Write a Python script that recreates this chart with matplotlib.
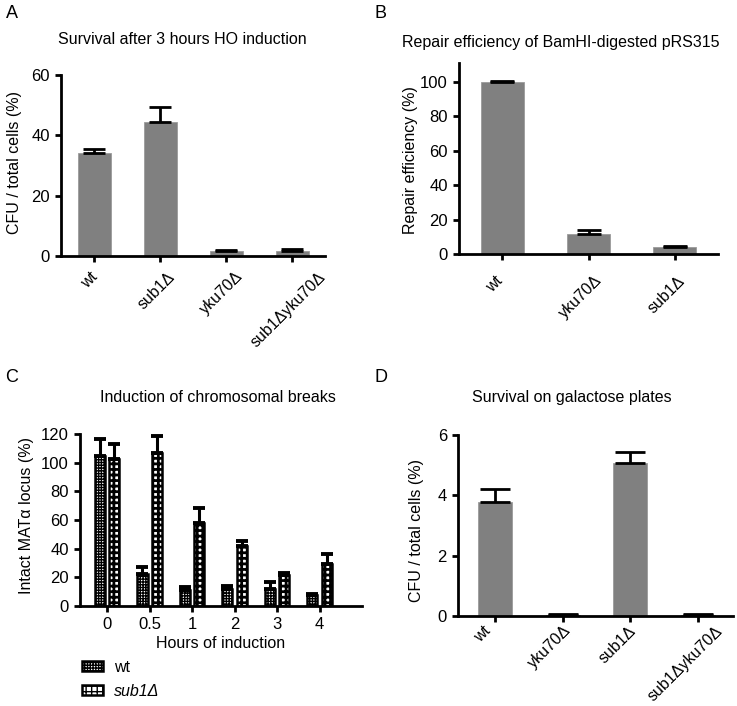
import matplotlib
matplotlib.use("Agg")
import matplotlib.pyplot as plt
from matplotlib.patches import Patch
from matplotlib.transforms import offset_copy
import numpy as np

plt.rcParams['font.family'] = ['Liberation Sans', 'DejaVu Sans']
plt.rcParams['font.size'] = 12

W, H = 737, 706

# Panel A: survival after 3 h HO induction
a_labels = ["wt", "sub1Δ", "yku70Δ", "sub1Δyku70Δ"]
a_values = [34.3, 44.3, 1.7, 1.7]
a_err = [1.1, 5.2, 0.4, 0.6]

# Panel B: repair efficiency
b_labels = ["wt", "yku70Δ", "sub1Δ"]
b_values = [100.0, 11.6, 4.0]
b_err = [0.6, 2.5, 0.8]

# Panel C: induction of chromosomal breaks
c_hours = ["0", "0.5", "1", "2", "3", "4"]
c_wt = [104.4, 22.2, 11.4, 11.7, 11.9, 7.5]
c_wt_err = [12.4, 4.7, 1.6, 2.1, 4.9, 1.1]
c_sub1 = [102.8, 106.8, 57.7, 42.0, 21.5, 29.0]
c_sub1_err = [10.2, 11.7, 10.5, 3.3, 1.6, 7.2]

# Panel D: survival on galactose plates
d_labels = ["wt", "yku70Δ", "sub1Δ", "sub1Δyku70Δ"]
d_values = [3.77, 0.03, 5.06, 0.02]
d_err = [0.43, 0.05, 0.38, 0.03]

GREY = '#808080'
TXT = 11.5


def px_axes(fig, x0, x1, ytop, ybot):
    return fig.add_axes([x0 / W, 1 - ybot / H, (x1 - x0) / W, (ybot - ytop) / H])


def style_axes(ax):
    for s in ['top', 'right']:
        ax.spines[s].set_visible(False)
    for s in ['left', 'bottom']:
        ax.spines[s].set_linewidth(2)
    ax.tick_params(width=2, length=4.5, labelsize=12)


def grey_bars(fig, ax, labels, values, err, capsize, dx, dy):
    x = np.arange(len(values))
    ax.bar(x, values, width=0.5, color=GREY, edgecolor='#9a9a9a', linewidth=0.6, zorder=2)
    ax.errorbar(x, values, yerr=[np.zeros(len(err)), err], fmt='none',
                ecolor='black', elinewidth=2, capsize=capsize, capthick=2, zorder=3)
    ax.set_xticks(x)
    ax.set_xticklabels([])
    # rotated labels: box centred a bit left of the tick, tops aligned
    tr = offset_copy(ax.get_xaxis_transform(), fig, x=dx, y=-dy, units='dots')
    for xi, lab in zip(x, labels):
        ax.text(xi, 0, lab, transform=tr, rotation=45, ha='center', va='top', fontsize=11.5)
    style_axes(ax)


fig = plt.figure(figsize=(W / 100, H / 100), dpi=100)

# A
axA = px_axes(fig, 61, 325, 75, 256)
grey_bars(fig, axA, a_labels, a_values, a_err, 8, -4, 13)
axA.set_xlim(-0.5, 3.5)
axA.set_ylim(0, 60)
axA.set_yticks([0, 20, 40, 60])
fig.text(182 / W, 1 - 40 / H, "Survival after 3 hours HO induction", ha='center', va='center', fontsize=TXT)
fig.text(15 / W, 1 - 162 / H, "CFU / total cells (%)", rotation=90, ha='center', va='center', fontsize=TXT)
fig.text(12 / W, 1 - 14 / H, "A", ha='center', va='center', fontsize=13)

# B
axB = px_axes(fig, 459, 718, 63, 254)
grey_bars(fig, axB, b_labels, b_values, b_err, 8.5, -8, 19)
axB.set_xlim(-0.5, 2.5)
axB.set_ylim(0, 111)
axB.set_yticks([0, 20, 40, 60, 80, 100])
fig.text(561 / W, 1 - 43 / H, "Repair efficiency of BamHI-digested pRS315", ha='center', va='center', fontsize=TXT)
fig.text(410 / W, 1 - 160 / H, "Repair efficiency (%)", rotation=90, ha='center', va='center', fontsize=TXT)
fig.text(381 / W, 1 - 14 / H, "B", ha='center', va='center', fontsize=13)

# C
axC = px_axes(fig, 80, 362, 434, 606)
xc = np.arange(len(c_hours))
off, bw = 0.17, 0.24
with plt.rc_context({'hatch.linewidth': 1.0, 'hatch.color': 'black'}):
    axC.bar(xc - off, c_wt, width=bw, color='white', edgecolor='black', linewidth=1.8,
            hatch='++++++', zorder=2)
with plt.rc_context({'hatch.linewidth': 2.0, 'hatch.color': 'black'}):
    axC.bar(xc + off, c_sub1, width=bw, color='white', edgecolor='black', linewidth=1.8,
            hatch='+++', zorder=2)
axC.errorbar(xc - off, c_wt, yerr=[np.zeros(len(c_wt)), c_wt_err], fmt='none',
             ecolor='black', elinewidth=2.2, capsize=4, capthick=2.8, zorder=3)
axC.errorbar(xc + off, c_sub1, yerr=[np.zeros(len(c_sub1)), c_sub1_err], fmt='none',
             ecolor='black', elinewidth=2.2, capsize=4, capthick=2.8, zorder=3)
axC.set_xticks(xc)
axC.set_xticklabels(c_hours)
axC.set_xlim(-0.64, 6.0)
axC.set_ylim(0, 120)
axC.set_yticks([0, 20, 40, 60, 80, 100, 120])
style_axes(axC)
axC.set_xlabel("Hours of induction", fontsize=TXT, labelpad=3)
fig.text(218 / W, 1 - 398 / H, "Induction of chromosomal breaks", ha='center', va='center', fontsize=TXT)
fig.text(27 / W, 1 - 515 / H, "Intact MATα locus (%)", rotation=90, ha='center', va='center', fontsize=TXT)
fig.text(12 / W, 1 - 378 / H, "C", ha='center', va='center', fontsize=13)

with plt.rc_context({'hatch.linewidth': 1.0}):
    h_wt = Patch(facecolor='white', edgecolor='black', linewidth=1.8, hatch='++++++', label='wt')
with plt.rc_context({'hatch.linewidth': 2.0}):
    h_sub = Patch(facecolor='white', edgecolor='black', linewidth=1.8, hatch='+++', label='sub1Δ')
leg = fig.legend(handles=[h_wt, h_sub], loc='upper left', bbox_to_anchor=(82 / W, 1 - 660 / H),
                 frameon=False, fontsize=TXT, handlelength=1.3, handleheight=0.6,
                 handletextpad=0.7, labelspacing=0.55, borderaxespad=0, borderpad=0)
leg.get_texts()[1].set_style('italic')

# D
axD = px_axes(fig, 458, 733, 435, 616)
grey_bars(fig, axD, d_labels, d_values, d_err, 11, -13, 7)
axD.set_xlim(-0.55, 3.52)
axD.set_ylim(0, 6)
axD.set_yticks([0, 2, 4, 6])
fig.text(572 / W, 1 - 398 / H, "Survival on galactose plates", ha='center', va='center', fontsize=TXT)
fig.text(416 / W, 1 - 530 / H, "CFU / total cells (%)", rotation=90, ha='center', va='center', fontsize=TXT)
fig.text(381 / W, 1 - 378 / H, "D", ha='center', va='center', fontsize=13)

fig.savefig("out.png", dpi=100)
